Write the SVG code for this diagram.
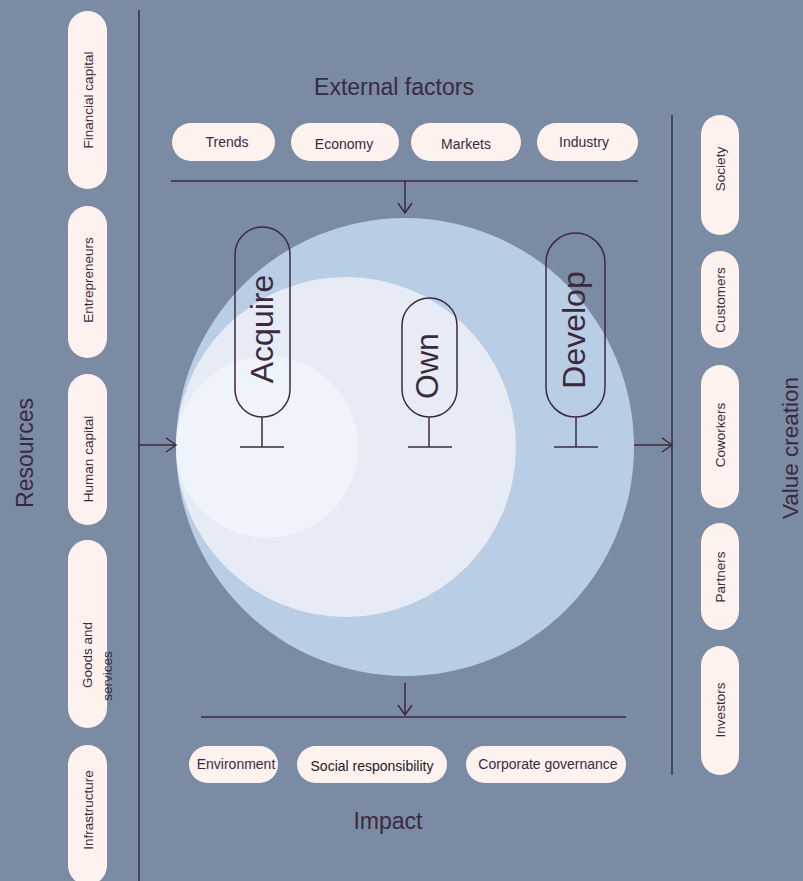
<svg xmlns="http://www.w3.org/2000/svg" width="803" height="881" viewBox="0 0 803 881">
<defs>
<style>
.bg{fill:#7a8ba3}
.pill{fill:#fdf2ee}
.t{font-family:"Liberation Sans",Arial,sans-serif;fill:#3b2a3e;text-anchor:middle}
.s{font-size:13.5px}
.m{font-size:14px}
.h{font-size:23px}
.big{font-size:32px}
.ln{stroke:#3d2a40;stroke-width:1.5;fill:none}
.op{stroke:#3d2a40;stroke-width:1.5;fill:none}
</style>
<marker id="arr" viewBox="0 0 12 16" refX="11" refY="8" markerWidth="12" markerHeight="16" markerUnits="userSpaceOnUse" orient="auto">
<path d="M1,1 L11,8 L1,15" fill="none" stroke="#3d2a40" stroke-width="1.5"/>
</marker>
</defs>
<rect class="bg" x="0" y="0" width="803" height="881"/>

<g id="circles">
<circle cx="405" cy="447" r="229" fill="#b9cde4"/>
<circle cx="346" cy="447" r="170" fill="#e6ebf6"/>
<circle cx="267" cy="447" r="91" fill="#eff3fb"/>
</g>

<g id="connectors">
<line class="ln" x1="139" y1="10" x2="139" y2="881"/>
<line class="ln" x1="672" y1="115" x2="672" y2="775"/>
<line class="ln" x1="171" y1="181" x2="638" y2="181"/>
<line class="ln" x1="405" y1="181" x2="405" y2="213" marker-end="url(#arr)"/>
<line class="ln" x1="405" y1="683" x2="405" y2="715" marker-end="url(#arr)"/>
<line class="ln" x1="201" y1="717" x2="626" y2="717"/>
<line class="ln" x1="139" y1="445" x2="176" y2="445" marker-end="url(#arr)"/>
<line class="ln" x1="634" y1="445" x2="672" y2="445" marker-end="url(#arr)"/>
</g>

<g id="labels">
<text class="t h" transform="translate(33,453) rotate(-90)">Resources</text>
<text class="t h" x="394" y="95">External factors</text>
<text class="t h" x="388" y="829">Impact</text>
<text class="t" style="font-size:22.5px" transform="translate(798,448) rotate(-90)">Value creation</text>
</g>

<g id="res-financial"><rect class="pill" x="68" y="11" width="39" height="178" rx="19.5"/><text class="t s" transform="translate(93,100) rotate(-90)">Financial capital</text></g>
<g id="res-entrepreneurs"><rect class="pill" x="68" y="206" width="39" height="152" rx="19.5"/><text class="t s" transform="translate(93,280) rotate(-90)">Entrepreneurs</text></g>
<g id="res-human"><rect class="pill" x="68" y="374" width="39" height="151" rx="19.5"/><text class="t s" transform="translate(93,459) rotate(-90)">Human capital</text></g>
<g id="res-goods"><rect class="pill" x="68" y="540" width="39" height="188" rx="19.5"/><text class="t s" transform="translate(92,655) rotate(-90)">Goods and</text><text class="t s" transform="translate(112,676) rotate(-90)">services</text></g>
<g id="res-infra"><rect class="pill" x="68" y="745" width="39" height="140" rx="19.5"/><text class="t s" transform="translate(93,810) rotate(-90)">Infrastructure</text></g>

<g id="ext-trends"><rect class="pill" x="172" y="123" width="103" height="38" rx="19"/><text class="t m" x="227" y="147">Trends</text></g>
<g id="ext-economy"><rect class="pill" x="291" y="123" width="108" height="38" rx="19"/><text class="t m" x="344" y="149">Economy</text></g>
<g id="ext-markets"><rect class="pill" x="411" y="123" width="110" height="38" rx="19"/><text class="t m" x="466" y="149">Markets</text></g>
<g id="ext-industry"><rect class="pill" x="537" y="123" width="101" height="38" rx="19"/><text class="t m" x="584" y="147">Industry</text></g>

<g id="acquire"><rect class="op" x="235" y="227" width="55" height="190" rx="27.5"/><line class="op" x1="262" y1="417" x2="262" y2="447"/><line class="op" x1="240" y1="447" x2="284" y2="447"/><text class="t big" transform="translate(273,329) rotate(-90)">Acquire</text></g>
<g id="own"><rect class="op" x="402" y="298" width="55" height="119" rx="27.5"/><line class="op" x1="429" y1="417" x2="429" y2="447"/><line class="op" x1="408" y1="447" x2="452" y2="447"/><text class="t big" transform="translate(438,366) rotate(-90)">Own</text></g>
<g id="develop"><rect class="op" x="546" y="233" width="59" height="184" rx="29.5"/><line class="op" x1="576" y1="417" x2="576" y2="447"/><line class="op" x1="554" y1="447" x2="598" y2="447"/><text class="t big" transform="translate(585,330) rotate(-90)">Develop</text></g>

<g id="val-society"><rect class="pill" x="701" y="115" width="38" height="120" rx="19"/><text class="t s" transform="translate(725,169) rotate(-90)">Society</text></g>
<g id="val-customers"><rect class="pill" x="701" y="251" width="38" height="97" rx="19"/><text class="t s" transform="translate(725,300) rotate(-90)">Customers</text></g>
<g id="val-coworkers"><rect class="pill" x="701" y="365" width="38" height="143" rx="19"/><text class="t s" transform="translate(725,435) rotate(-90)">Coworkers</text></g>
<g id="val-partners"><rect class="pill" x="701" y="523" width="38" height="107" rx="19"/><text class="t s" transform="translate(725,577) rotate(-90)">Partners</text></g>
<g id="val-investors"><rect class="pill" x="701" y="646" width="38" height="129" rx="19"/><text class="t s" transform="translate(725,710) rotate(-90)">Investors</text></g>

<g id="imp-environment"><rect class="pill" x="189" y="746" width="89" height="37" rx="18.5"/><text class="t m" x="236" y="769">Environment</text></g>
<g id="imp-social"><rect class="pill" x="297" y="746" width="150" height="37" rx="18.5"/><text class="t m" x="372" y="771" style="fill:#1f1a22">Social responsibility</text></g>
<g id="imp-governance"><rect class="pill" x="466" y="746" width="160" height="37" rx="18.5"/><text class="t m" x="548" y="769">Corporate governance</text></g>
</svg>
